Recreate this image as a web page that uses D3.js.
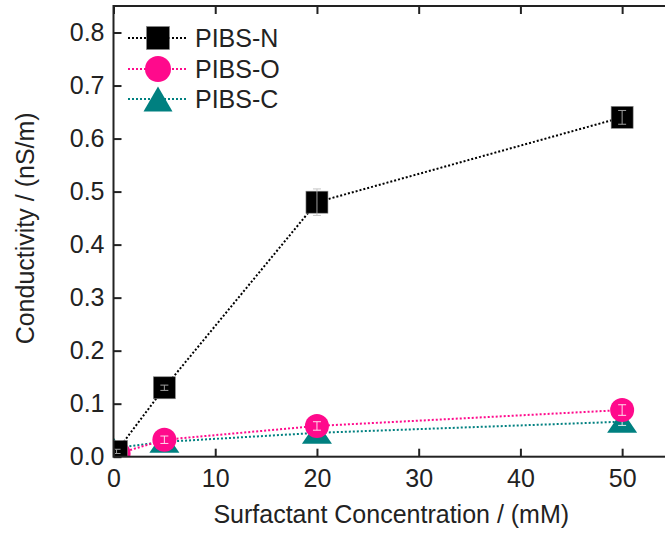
<!DOCTYPE html>
<html><head><meta charset="utf-8">
<script src="https://cdn.jsdelivr.net/npm/d3@7"></script>
<style>body{margin:0;background:#fff}text{font-family:"Liberation Sans",Arial,sans-serif;fill:#222}</style>
</head><body><svg id="c" width="665" height="539"></svg>
<script>
const concN = [0.3, 5, 20, 50];
const valN = [0.01, 0.13, 0.48, 0.64];
const errN = [0.004, 0.005, 0.025, 0.013];
const concO = [0.5, 5, 20, 50];
const valO = [0.006, 0.032, 0.058, 0.088];
const errO = [0.003, 0.007, 0.008, 0.01];
const concC = [0, 5, 20, 50];
const valC = [0.016, 0.028, 0.045, 0.066];
const errC = [0.003, 0.005, 0.006, 0.007];
const xTicks = [0, 10, 20, 30, 40, 50];
const yTicks = [0.0, 0.1, 0.2, 0.3, 0.4, 0.5, 0.6, 0.7, 0.8];
const names = ["PIBS-N", "PIBS-O", "PIBS-C"];
const colors = ["#000000", "#ff0a8c", "#008080"];

const L = 113.5, R = 673, T = 6, B = 456.7;
const svg = d3.select("#c");
const x = d3.scaleLinear().domain([0, 55]).range([L, R]);
const y = d3.scaleLinear().domain([0, 0.85]).range([B, T]);

svg.append("clipPath").attr("id", "clip").append("rect")
  .attr("x", L).attr("y", T).attr("width", R - L).attr("height", B - T);

const series = [
  {name: names[2], color: colors[2], shape: "tri", pts: concC.map((c, i) => ({x: c, y: valC[i], e: errC[i]}))},
  {name: names[1], color: colors[1], shape: "circ", pts: concO.map((c, i) => ({x: c, y: valO[i], e: errO[i]}))},
  {name: names[0], color: colors[0], shape: "sq", pts: concN.map((c, i) => ({x: c, y: valN[i], e: errN[i]}))}
];

const plot = svg.append("g").attr("clip-path", "url(#clip)");
const line = d3.line().x(d => x(d.x)).y(d => y(d.y));
series.forEach(s => {
  plot.append("path").attr("d", line(s.pts)).attr("fill", "none")
    .attr("stroke", s.color).attr("stroke-width", 2).attr("stroke-dasharray", "2,2");
});

function marker(g, shape, cx, cy, color, big) {
  if (shape === "sq") {
    const a = big ? 23 : 22;
    g.append("rect").attr("x", cx - a / 2).attr("y", cy - a / 2).attr("width", a).attr("height", a)
      .attr("fill", color).attr("stroke", "#888").attr("stroke-width", 0.6);
  } else if (shape === "circ") {
    g.append("circle").attr("cx", cx).attr("cy", cy).attr("r", big ? 13 : 12).attr("fill", color);
  } else {
    const w = big ? 29 : 30, h = big ? 25 : 22;
    g.append("path").attr("d", `M${cx},${cy - h / 2}L${cx + w / 2},${cy + h / 2}L${cx - w / 2},${cy + h / 2}Z`).attr("fill", color);
  }
}

series.forEach(s => {
  s.pts.forEach(p => {
    marker(plot, s.shape, x(p.x), y(p.y), s.color, false);
    const g = plot.append("g").attr("stroke", s.shape === "sq" ? "#bbbbbb" : "#ffffff")
      .attr("stroke-width", 1).attr("opacity", 0.85);
    const cx = x(p.x), y1 = y(p.y + p.e), y2 = y(p.y - p.e);
    g.append("line").attr("x1", cx).attr("x2", cx).attr("y1", y1).attr("y2", y2);
    g.append("line").attr("x1", cx - 4).attr("x2", cx + 4).attr("y1", y1).attr("y2", y1);
    g.append("line").attr("x1", cx - 4).attr("x2", cx + 4).attr("y1", y2).attr("y2", y2);
  });
});

// frame
svg.append("rect").attr("x", L).attr("y", T).attr("width", R - L).attr("height", B - T)
  .attr("fill", "none").attr("stroke", "#222").attr("stroke-width", 2);

const tl = 8;
const ax = svg.append("g").attr("transform", `translate(0,${B})`)
  .call(d3.axisBottom(x).tickValues(xTicks).tickSizeInner(-tl).tickSizeOuter(0).tickPadding(12.5).tickFormat(d3.format("d")));
const ay = svg.append("g").attr("transform", `translate(${L},0)`)
  .call(d3.axisLeft(y).tickValues(yTicks).tickSizeInner(-tl).tickSizeOuter(0).tickPadding(9).tickFormat(d3.format(".1f")));
const at = svg.append("g").attr("transform", `translate(0,${T})`)
  .call(d3.axisTop(x).tickValues(xTicks).tickSizeInner(-tl).tickSizeOuter(0).tickFormat(""));
const ar = svg.append("g").attr("transform", `translate(${R},0)`)
  .call(d3.axisRight(y).tickValues(yTicks).tickSizeInner(-tl).tickSizeOuter(0).tickFormat(""));
[ax, ay, at, ar].forEach(a => {
  a.select(".domain").remove();
  a.selectAll(".tick line").attr("stroke", "#222").attr("stroke-width", 2);
  a.selectAll(".tick text").attr("font-size", 25).attr("fill", "#222")
    .attr("font-family", "'Liberation Sans', Arial, sans-serif");
});

svg.append("text").attr("x", (L + R) / 2 - 2).attr("y", 523).attr("text-anchor", "middle")
  .attr("font-size", 25).text("Surfactant Concentration / (mM)");
svg.append("text").attr("transform", `translate(34,${(T + B) / 2 - 3}) rotate(-90)`).attr("text-anchor", "middle")
  .attr("font-size", 25).text("Conductivity / (nS/m)");

// legend
const legY = [38, 69, 99];
const legOrder = [2, 1, 0];
legOrder.forEach((si, i) => {
  const s = series[si];
  const g = svg.append("g");
  g.append("line").attr("x1", 128).attr("x2", 187).attr("y1", legY[i]).attr("y2", legY[i])
    .attr("stroke", s.color).attr("stroke-width", 2).attr("stroke-dasharray", "2,2");
  marker(g, s.shape, 158, legY[i], s.color, true);
  g.append("text").attr("x", 195).attr("y", legY[i] + 9).attr("font-size", 25).text(s.name);
});
</script></body></html>
